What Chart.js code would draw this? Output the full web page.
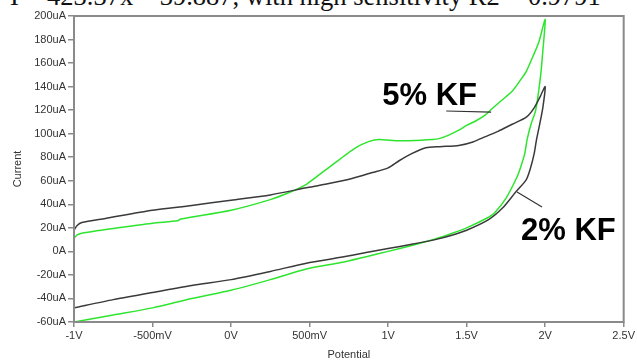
<!DOCTYPE html>
<html>
<head>
<meta charset="utf-8">
<script src="https://cdn.jsdelivr.net/npm/chart.js@4"></script>
<style>
  html, body { margin: 0; padding: 0; background: #fff; overflow: hidden; }
  #wrap { position: relative; width: 637px; height: 360px; overflow: hidden; }
  #cap {
    position: absolute; left: 10px; top: -19px;
    font-family: "Liberation Serif", "Times New Roman", serif;
    font-size: 26.5px; line-height: 30px; white-space: nowrap; color: #111;
  }
  #c { position: absolute; left: 0; top: 0; }
</style>
</head>
<body>
<div id="wrap">
  <div id="cap">I = 423.37x &#8211; 39.887, with high sensitivity R2 = 0.9791</div>
  <canvas id="c" width="637" height="360"></canvas>
</div>
<script>
// Cyclic voltammograms: forward sweep -1 V -> 2 V, then reverse sweep back to -1 V.
// Potential in volts, current in microamps.
const kf2Potential = [
  -1.00, -0.98, -0.95, -0.80, -0.50, -0.25, 0.00, 0.25, 0.48, 0.60, 0.77, 0.90, 1.00, 1.07,
  1.15, 1.24, 1.33, 1.45, 1.54, 1.62, 1.70, 1.79, 1.88, 1.93, 1.97, 2.00,
  1.985, 1.965, 1.945, 1.93, 1.905, 1.88, 1.81, 1.73, 1.64, 1.50, 1.40, 1.30, 1.15, 1.00, 0.86,
  0.70, 0.48, 0.25, 0.00, -0.25, -0.50, -0.75, -1.00
];
const kf2Current = [
  18, 22, 24.5, 28, 35, 39, 43.5, 48, 54, 57, 62, 67, 71, 77,
  83, 88, 89, 90, 93, 97.5, 102, 108, 114, 122, 132, 140,
  122, 108, 95, 83, 70, 61, 50, 37, 27, 18, 13.5, 10, 6, 2.5, -1,
  -5, -10, -17, -24, -29, -35, -41, -48
];

const kf5Potential = [
  -1.00, -0.98, -0.95, -0.75, -0.50, -0.34, -0.32, 0.00, 0.25, 0.37, 0.48, 0.55, 0.62, 0.69,
  0.76, 0.82, 0.88, 0.94, 1.05, 1.13, 1.28, 1.33, 1.39, 1.45, 1.50, 1.56, 1.62, 1.66, 1.72,
  1.79, 1.85, 1.88, 1.92, 1.96, 2.00,
  1.985, 1.97, 1.94, 1.91, 1.885, 1.87, 1.845, 1.82, 1.75, 1.68, 1.64, 1.50, 1.40, 1.30,
  1.15, 1.00, 0.86, 0.70, 0.48, 0.25, 0.00, -0.25, -0.50, -0.75, -1.00
];
const kf5Current = [
  11, 14, 15.5, 19.5, 24, 26, 27.5, 35, 44, 50, 57, 64, 71, 78,
  85, 90, 93.5, 95, 94, 94, 95, 96, 99, 103, 107, 111, 116, 121, 128,
  136, 147, 153, 165, 178, 197,
  170, 148, 120, 108, 95, 83, 72, 63, 45, 33, 29, 20, 15, 10.5,
  5, 0, -4.5, -9.5, -15, -24, -33, -40, -48, -54, -60
];

// Axis tick labels
const potentialTickLabels = ['-1V', '-500mV', '0V', '500mV', '1V', '1.5V', '2V', '2.5V'];
const currentTickLabels = ['-60uA', '-40uA', '-20uA', '0A', '20uA', '40uA', '60uA', '80uA',
  '100uA', '120uA', '140uA', '160uA', '180uA', '200uA'];

// Curve labels with leader lines, placed in data units
const curveLabels = [
  { text: '5% KF', x: 0.963, y: 124.4, lead: [[1.37, 119.3], [1.656, 118.4]] },
  { text: '2% KF', x: 1.846, y: 9.7, lead: [[1.821, 50.5], [1.98, 37.7]] }
];

const toPoints = (xs, ys) => xs.map((x, i) => ({ x, y: ys[i] }));

const framePlugin = {
  id: 'frameAndLabels',
  afterDatasetsDraw(chart) {
    const { ctx, chartArea: a, scales } = chart;
    ctx.save();
    // plot frame
    ctx.strokeStyle = '#8a8a8a';
    ctx.lineWidth = 2;
    ctx.strokeRect(a.left, a.top, a.right - a.left, a.bottom - a.top);
    // curve labels
    ctx.font = 'bold 31px "Liberation Sans", Arial, sans-serif';
    ctx.fillStyle = '#000';
    ctx.textBaseline = 'alphabetic';
    ctx.textAlign = 'left';
    curveLabels.forEach(l => {
      ctx.fillText(l.text, scales.x.getPixelForValue(l.x), scales.y.getPixelForValue(l.y));
      ctx.beginPath();
      ctx.strokeStyle = '#333';
      ctx.lineWidth = 1.2;
      ctx.moveTo(scales.x.getPixelForValue(l.lead[0][0]), scales.y.getPixelForValue(l.lead[0][1]));
      ctx.lineTo(scales.x.getPixelForValue(l.lead[1][0]), scales.y.getPixelForValue(l.lead[1][1]));
      ctx.stroke();
    });
    ctx.restore();
  }
};

const tickFont = { family: '"Liberation Sans", Arial, sans-serif', size: 11 };

new Chart(document.getElementById('c'), {
  type: 'scatter',
  data: {
    datasets: [
      {
        label: '2% KF',
        data: toPoints(kf2Potential, kf2Current),
        showLine: true, borderColor: '#3a3a3a', borderWidth: 1.5,
        pointRadius: 0, tension: 0.25, fill: false
      },
      {
        label: '5% KF',
        data: toPoints(kf5Potential, kf5Current),
        showLine: true, borderColor: '#2ee52e', borderWidth: 1.5,
        pointRadius: 0, tension: 0.25, fill: false
      }
    ]
  },
  options: {
    responsive: false,
    animation: false,
    layout: { padding: { left: 0, right: 12, top: 16, bottom: 0 } },
    plugins: { legend: { display: false }, tooltip: { enabled: false } },
    scales: {
      x: {
        type: 'linear', min: -1, max: 2.5,
        afterFit(s) { s.height = 38; },
        afterBuildTicks(s) { s.ticks = potentialTickLabels.map((_, i) => ({ value: -1 + 0.5 * i })); },
        grid: { display: true, drawOnChartArea: false, drawTicks: true, tickLength: 5, color: '#8a8a8a', lineWidth: 1.5 },
        border: { display: false },
        ticks: {
          autoSkip: false, maxRotation: 0, padding: 2, color: '#333', font: tickFont,
          callback: (v, i) => potentialTickLabels[i]
        },
        title: { display: true, text: 'Potential', color: '#333', font: tickFont, padding: { top: 0, bottom: -2 } }
      },
      y: {
        type: 'linear', min: -60, max: 200,
        afterFit(s) { s.width = 74; },
        afterBuildTicks(s) { s.ticks = currentTickLabels.map((_, i) => ({ value: -60 + 20 * i })); },
        grid: { display: true, drawOnChartArea: false, drawTicks: true, tickLength: 6, color: '#8a8a8a', lineWidth: 1.5 },
        border: { display: false },
        ticks: {
          autoSkip: false, padding: 2, color: '#333', font: tickFont,
          callback: (v, i) => currentTickLabels[i]
        },
        title: { display: true, text: 'Current', color: '#333', font: tickFont, padding: { top: 11, bottom: 0 } }
      }
    }
  },
  plugins: [framePlugin]
});
</script>
</body>
</html>
